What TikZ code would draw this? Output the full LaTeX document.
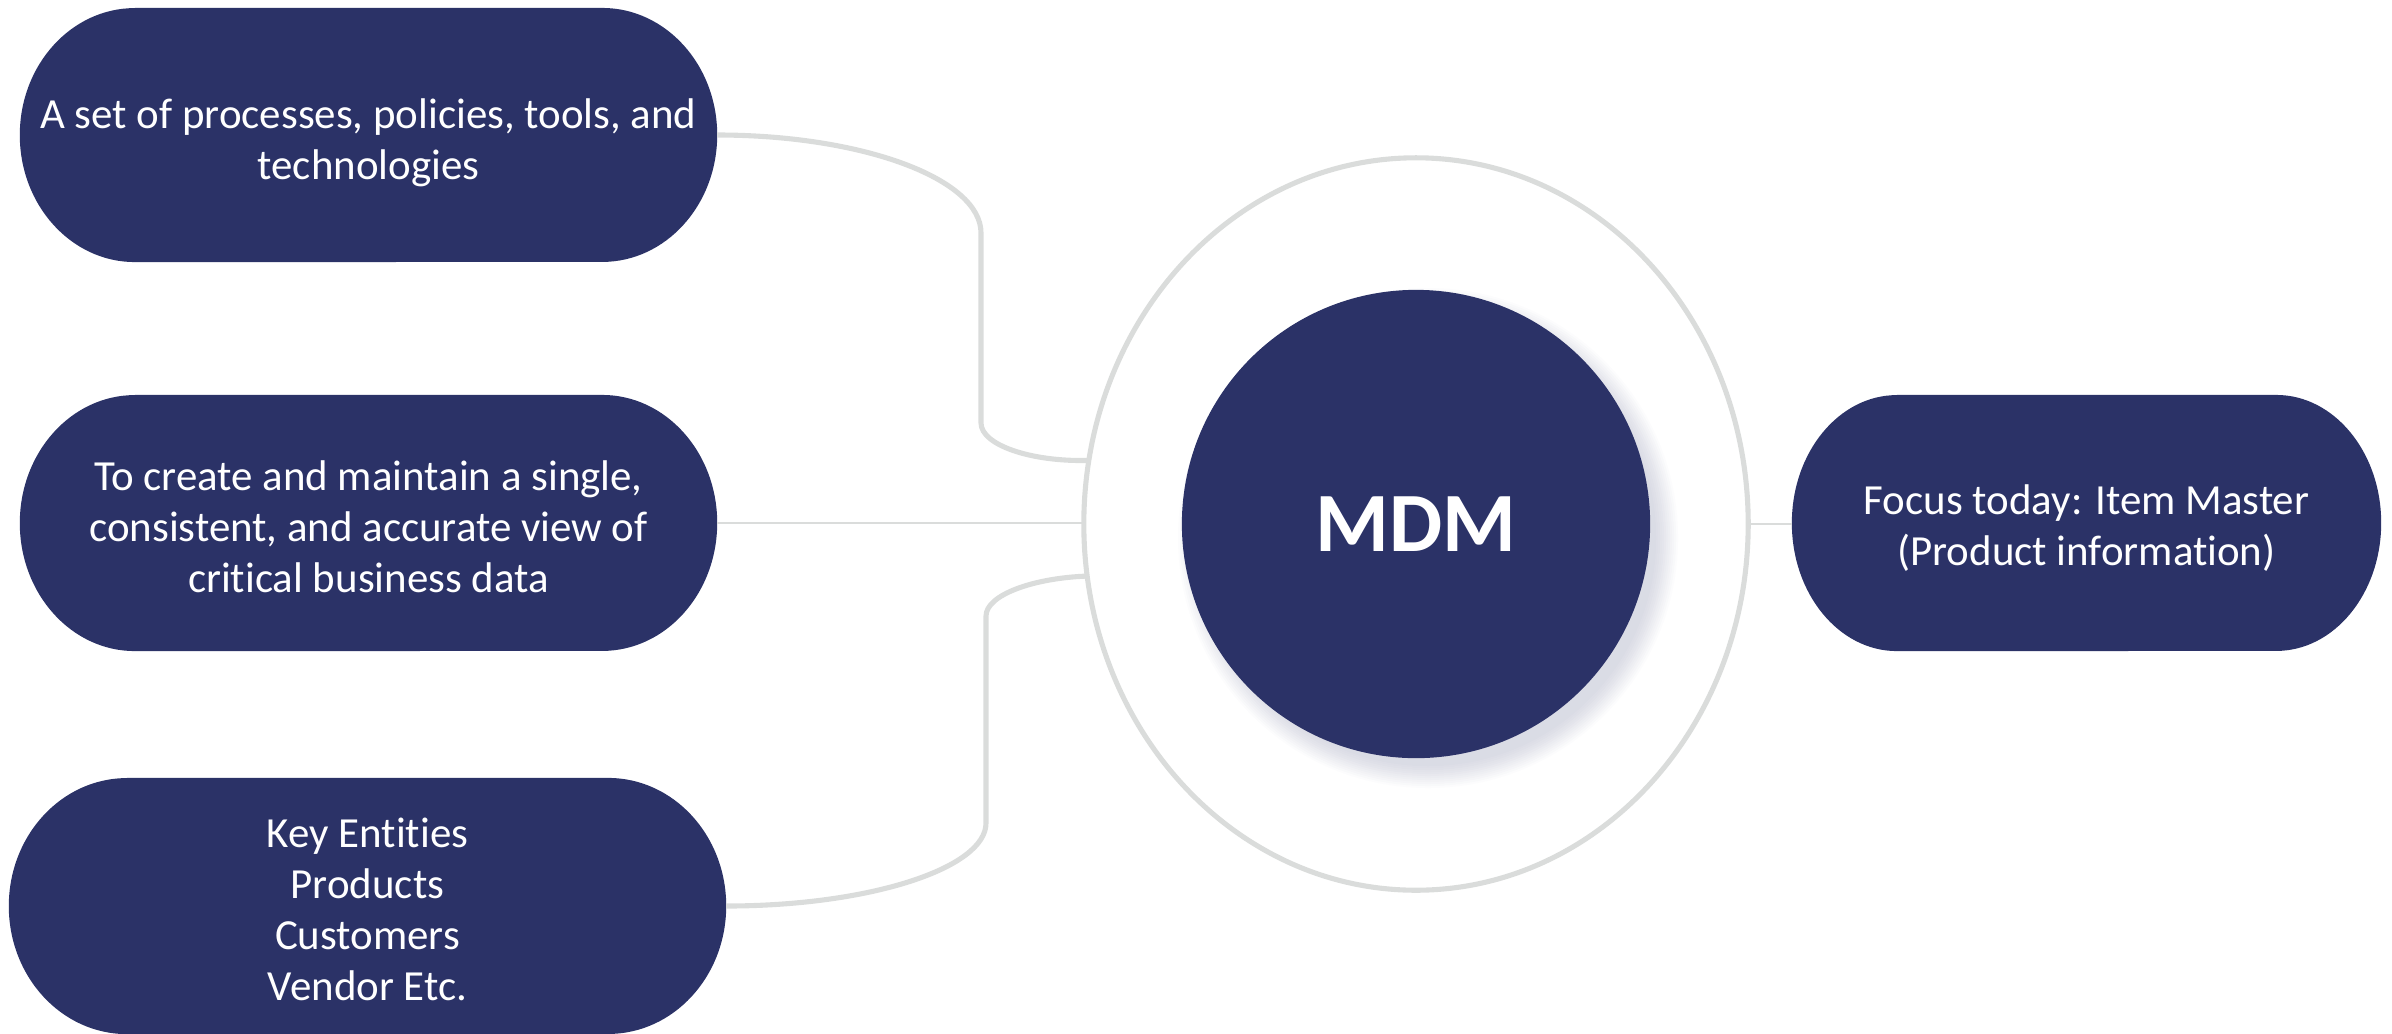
\documentclass[tikz,border=0pt]{standalone}
\usepackage{fontspec}
\setmainfont{Carlito}[Ligatures={NoCommon}]
\usetikzlibrary{shapes.geometric,backgrounds,calc}
\definecolor{navy}{RGB}{43,50,103}
\definecolor{linegray}{RGB}{218,220,219}
\begin{document}
\begin{tikzpicture}[x=0.01cm,y=0.01cm,
  box/.style={rectangle, inner sep=0pt, outer sep=0pt},
  boxtext/.style={inner sep=0pt, text=white, align=center,
    font=\fontsize{12.2}{14.5}\selectfont},
  conn/.style={draw=linegray, line width=1.45pt},
  thinconn/.style={draw=linegray, line width=0.8pt}]
\useasboundingbox (0,0) rectangle (2392,-1033);

% boxes
\node[box, minimum width=6.97cm, minimum height=2.54cm] (b1) at (368.5,-135) {};
\node[box, minimum width=6.97cm, minimum height=2.56cm] (b2) at (368.5,-523) {};
\node[box, minimum width=7.17cm, minimum height=2.56cm] (b3) at (367.5,-906) {};
\node[box, minimum width=5.89cm, minimum height=2.56cm] (b4) at (2086.5,-523) {};

% box texts
\node[boxtext] (t1) at ($(b1.center)+(0,-8)$)
  {A set of processes, policies, tools, and\\technologies};
\node[boxtext] (t2) at ($(b2.center)+(0,-4)$)
  {To create and maintain a single,\\consistent, and accurate view of\\critical business data};
\node[boxtext] (t3) at ($(b3.center)+(0,-3)$)
  {Key Entities\\Products\\Customers\\Vendor Etc.};
\node[boxtext] (t4) at ($(b4.center)+(0,-5)$)
  {Focus today: Item Master\\(Product information)};

% outer ellipse
\node[ellipse, draw=linegray, line width=1.45pt, minimum width=6.64cm,
  minimum height=7.32cm, inner sep=0pt, outer sep=0pt] (outer) at (1416,-524) {};

% shadow of centre circle
\foreach \i in {1,...,12}
  \fill[navy, opacity=0.014] (1428,-538) circle[radius=226+2*\i];

% centre circle
\node[circle, fill=navy, minimum size=4.68cm, inner sep=0pt, text=white,
  font=\fontsize{24}{28}\selectfont\bfseries] (mdm) at (1416,-524) {MDM};

% stadium fills behind the box texts
\begin{pgfonlayer}{background}
\foreach \n/\r/\h in {b1/115/127,b2/115/128,b3/118/128,b4/105/128}{
  \fill[navy] ($(\n.north west)+(\r,0)$) -- ($(\n.north east)+(-\r,0)$)
    arc[start angle=90,end angle=-90,x radius=\r,y radius=\h]
    -- ($(\n.south west)+(\r,0)$)
    arc[start angle=270,end angle=90,x radius=\r,y radius=\h] -- cycle;
}
\end{pgfonlayer}

% connectors
\draw[conn] (b1.east) .. controls (863,-135) and (981,-179) .. (981,-233)
  -- (981,-423) .. controls (981,-445) and (1031,-462) .. (outer.169.27);
\draw[conn] (b3.east) .. controls (870,-906) and (986,-868) .. (986,-823)
  -- (986,-616) .. controls (986,-595) and (1033,-578) .. (outer.189.34);
\draw[thinconn] (b2.east) -- (b2.east -| outer.west);
\draw[thinconn] (outer.east) -- (outer.east -| b4.west);
\end{tikzpicture}
\end{document}
